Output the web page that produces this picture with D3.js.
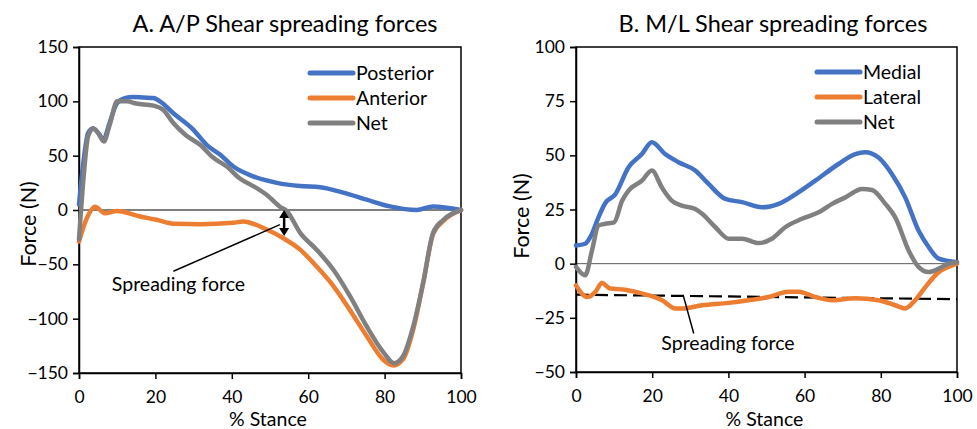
<!DOCTYPE html>
<html>
<head>
<meta charset="utf-8">
<script src="https://cdn.jsdelivr.net/npm/d3@7"></script>
<style>
  body { margin: 0; background: #fff; }
  text { font-family: Lato, "Open Sans", sans-serif; fill: #000; }
</style>
</head>
<body>
<svg id="chart" width="977" height="429"></svg>
<script>

// Data: [% stance, force (N)]
var apPosterior = [[0,5],[1.2,45],[2.4,71],[3.7,75],[5,71],[6.4,65],[8,80],[9.9,98],[12,103],[14.2,104],[17,103.5],[19.5,103],[21.2,100],[24.7,89],[29.9,74],[33.4,60],[36.9,51],[40.4,40],[45.6,31],[51.8,25],[57.9,22],[63.1,21],[69.2,16],[75.3,9.5],[81.4,3.3],[88.4,0],[92.7,3.3],[100,0]];
var apAnterior = [[0,-29],[2,-8],[4.2,3],[6.8,-3],[9.9,-1],[16,-6],[20.3,-9],[24.7,-12.6],[31.7,-13],[40.4,-11.7],[43,-10.5],[49.1,-18],[53.5,-26],[57.9,-36.5],[62.2,-52],[66.6,-70],[70.9,-92],[75.3,-116],[79.7,-138],[82.3,-143],[84.9,-137],[87.5,-110],[90.1,-67],[92.7,-22],[95.4,-10],[100,0]];
var apNet = [[0,-27],[1.2,30],[2.4,68],[3.7,75],[5,71],[6.5,63],[8,78],[10,100],[12.5,100],[15,98],[19.5,96],[22.1,92],[24.7,80],[27.9,69],[31.7,60],[35.2,48],[38.7,40],[42.1,29],[45.6,22],[49.1,14],[52.6,3],[54.4,-1],[57.9,-21],[62.2,-36.5],[66.6,-55],[70.9,-79],[75.3,-107],[79.7,-131],[82.5,-141],[84.9,-134],[87.5,-107],[90.1,-67],[92.7,-21],[95.4,-9],[100,0]];

var mlMedial = [[0,8.4],[2.4,9.2],[4.2,13.8],[5.9,21.4],[7.7,28],[10.3,32],[13.8,44.5],[17.3,50.6],[19.9,56],[23.4,50.6],[26.9,46.8],[31.3,43],[34.8,36.8],[39.2,29.9],[43.6,28.4],[48.8,26],[53.2,27.6],[57.6,32],[62.8,38.3],[68.9,46],[73.3,50.6],[75.9,51.4],[79.4,49],[82.9,41.4],[86.4,30.6],[89.9,15.3],[92.6,7.6],[95.2,2.3],[100,0.7]];
var mlLateral = [[0,-10],[2.9,-15.4],[5.1,-13],[6.8,-8.9],[9,-11.5],[12.9,-12],[15.6,-13],[19.1,-14.6],[22.6,-16.9],[26.1,-20.7],[27.8,-20.7],[33.1,-19.2],[40.1,-18.1],[45.3,-16.9],[50.6,-15.4],[55.8,-13],[58.4,-13],[62.8,-15.4],[67.2,-16.9],[73.3,-16],[79.4,-16.9],[83.8,-19.2],[86.4,-20.7],[89,-16.9],[91.7,-10.8],[95.2,-3.9],[97.8,-1.5],[100,0]];
var mlNet = [[0,-1.5],[2.4,-5.4],[4.2,6.1],[5.9,17.6],[7.7,18.4],[10,19.1],[12.1,29],[13.8,33.7],[17.3,38.3],[19.9,43],[22.6,35],[25.2,29],[27.8,26.8],[31.3,25.2],[33.1,23],[36.6,16.8],[40.1,11.5],[43.6,11.5],[47.9,9.5],[51.4,11.5],[54.9,16.8],[59.3,20.7],[63.7,23.7],[67.2,27.6],[70.7,30.6],[75.1,34.5],[77.7,34],[81.2,27.6],[83.8,21.4],[87.3,6.1],[89.9,-1.5],[92.6,-3.9],[95.2,-2.3],[97.8,0],[100,0.7]];
var mlSpread = [[0,-14.3],[100,-16.4]];

var xTicks = [0,20,40,60,80,100];
var apTicks = [-150,-100,-50,0,50,100,150];
var mlTicks = [-50,-25,0,25,50,75,100];

var colors = { blue: '#4472c4', orange: '#ed7d31', grey: '#808080' };

var svg = d3.select('#chart');

function drawPanel(cfg){
  var g = svg.append('g');
  var x = d3.scaleLinear().domain([0,100]).range([cfg.left, cfg.right]);
  var y = d3.scaleLinear().domain(cfg.yDomain).range([cfg.bottom, cfg.top]);

  // frame
  g.append('rect')
    .attr('x', cfg.left).attr('y', cfg.top)
    .attr('width', cfg.right - cfg.left).attr('height', cfg.bottom - cfg.top)
    .attr('fill', 'none').attr('stroke', '#000').attr('stroke-width', 1.5);

  // zero line
  g.append('line')
    .attr('x1', x(0)).attr('x2', x(100)).attr('y1', y(0)).attr('y2', y(0))
    .attr('stroke', cfg.zeroColor).attr('stroke-width', 1);

  var xAxis = g.append('g').attr('transform', 'translate(0,' + cfg.bottom + ')')
    .call(d3.axisBottom(x).tickValues(xTicks).tickSize(6).tickPadding(12));
  var yAxis = g.append('g').attr('transform', 'translate(' + cfg.left + ',0)')
    .call(d3.axisLeft(y).tickValues(cfg.yTicks).tickSize(6).tickPadding(5));
  [xAxis, yAxis].forEach(function(a){
    a.select('.domain').attr('stroke-width', 1.5);
    a.selectAll('.tick line').attr('stroke-width', 1.5);
    a.selectAll('text').style('font-family', 'Lato, sans-serif').style('font-size', '17.5px').attr('fill', '#000');
  });

  var line = d3.line().x(function(d){ return x(d[0]); }).y(function(d){ return y(d[1]); })
    .curve(d3.curveMonotoneX);

  if (cfg.dashed) {
    g.append('path').datum(cfg.dashed)
      .attr('d', d3.line().x(function(d){ return x(d[0]); }).y(function(d){ return y(d[1]); }))
      .attr('fill', 'none').attr('stroke', '#000').attr('stroke-width', 2.2)
      .attr('stroke-dasharray', '13,6');
  }

  cfg.series.forEach(function(s){
    g.append('path').datum(s.values)
      .attr('d', line)
      .attr('fill', 'none').attr('stroke', s.color).attr('stroke-width', 4.5)
      .attr('stroke-linejoin', 'round').attr('stroke-linecap', 'round');
  });

  // legend
  var leg = g.selectAll('.leg').data(cfg.series).enter().append('g')
    .attr('transform', function(d, i){ return 'translate(' + cfg.legX + ',' + (cfg.legY + i * 25) + ')'; });
  leg.append('line').attr('x1', 0).attr('x2', 43).attr('y1', 0).attr('y2', 0)
    .attr('stroke', function(d){ return d.color; }).attr('stroke-width', 5).attr('stroke-linecap', 'round');
  leg.append('text').attr('x', 46).attr('dy', '0.35em').style('font-size', '19.5px')
    .text(function(d){ return d.name; });

  // annotation
  var a = cfg.note;
  if (a.arrow) {
    g.append('line')
      .attr('x1', x(a.arrow[0])).attr('x2', x(a.arrow[0]))
      .attr('y1', y(a.arrow[1]) + 6).attr('y2', y(a.arrow[2]) - 6)
      .attr('stroke', '#000').attr('stroke-width', 2.5);
    [[a.arrow[1], 1], [a.arrow[2], -1]].forEach(function(p){
      var px = x(a.arrow[0]), py = y(p[0]);
      g.append('path')
        .attr('d', 'M' + px + ',' + py + 'L' + (px - 5) + ',' + (py + p[1] * 8) + 'L' + (px + 5) + ',' + (py + p[1] * 8) + 'Z')
        .attr('fill', '#000');
    });
  }
  g.append('line')
    .attr('x1', x(a.lead[0][0])).attr('y1', y(a.lead[0][1]))
    .attr('x2', x(a.lead[1][0])).attr('y2', y(a.lead[1][1]))
    .attr('stroke', '#000').attr('stroke-width', 1.5);
  g.append('text').attr('x', x(a.text[0])).attr('y', y(a.text[1])).attr('dy', '0.35em')
    .style('font-size', '19.5px').text('Spreading force');

  // titles
  g.append('text').attr('x', cfg.titleX).attr('y', 32).attr('text-anchor', 'middle')
    .style('font-size', '23.5px').text(cfg.title);
  g.append('text').attr('x', (cfg.left + cfg.right) / 2 - 2).attr('y', 426).attr('text-anchor', 'middle')
    .style('font-size', '19.5px').text('% Stance');
  g.append('text').attr('transform', 'translate(' + cfg.yTitleX + ',' + cfg.yTitleY + ') rotate(-90)')
    .attr('text-anchor', 'middle').attr('dy', '0.35em')
    .style('font-size', '21.5px').text('Force (N)');
}

drawPanel({
  left: 79, right: 461, top: 47, bottom: 373,
  yDomain: [-150, 150], yTicks: apTicks,
  zeroColor: '#000',
  title: 'A. A/P Shear spreading forces', titleX: 285, yTitleX: 28, yTitleY: 224,
  legX: 310, legY: 73,
  series: [
    { name: 'Posterior', color: colors.blue, values: apPosterior },
    { name: 'Anterior', color: colors.orange, values: apAnterior },
    { name: 'Net', color: colors.grey, values: apNet }
  ],
  note: { arrow: [53.7, 0, -24], lead: [[24.7, -56.4], [52.6, -13.5]], text: [8.6, -68.7] }
});

drawPanel({
  left: 576, right: 957, top: 47, bottom: 372,
  yDomain: [-50, 100], yTicks: mlTicks,
  zeroColor: '#595959',
  title: 'B. M/L Shear spreading forces', titleX: 773, yTitleX: 521, yTitleY: 216,
  legX: 817, legY: 72,
  dashed: mlSpread,
  series: [
    { name: 'Medial', color: colors.blue, values: mlMedial },
    { name: 'Lateral', color: colors.orange, values: mlLateral },
    { name: 'Net', color: colors.grey, values: mlNet }
  ],
  note: { lead: [[28.2, -15], [30.9, -32.2]], text: [22.4, -36.8] }
});

</script>
</body>
</html>
